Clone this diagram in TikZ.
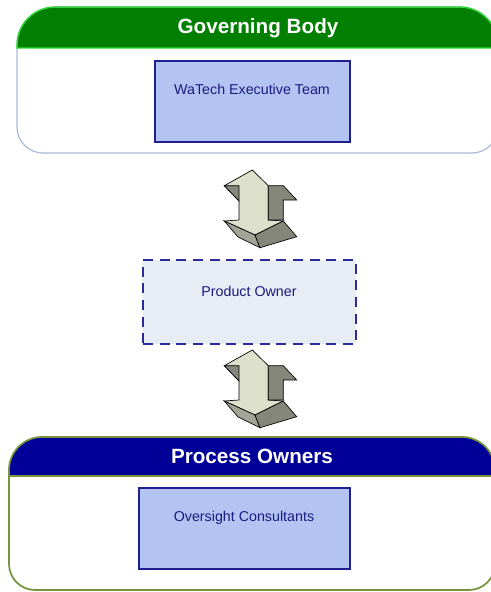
\documentclass[tikz,border=0pt]{standalone}
\usepackage{fontspec}
\setmainfont{Liberation Sans}
\definecolor{gbhead}{HTML}{007F00}
\definecolor{gbgreen}{HTML}{22DD22}
\definecolor{gbline}{HTML}{A9BBD8}
\definecolor{pohead}{HTML}{000099}
\definecolor{poline}{HTML}{77933C}
\definecolor{navytext}{HTML}{1A1A80}
\definecolor{boxfill}{HTML}{B3C4F2}
\definecolor{boxline}{HTML}{1F1F8F}
\definecolor{dashfill}{HTML}{E8ECF5}
\definecolor{dashline}{HTML}{2A2A9A}
\definecolor{arrfront}{HTML}{DDE0CB}
\definecolor{arrdark}{HTML}{85877A}
\definecolor{arrmid}{HTML}{A2A496}
% rounded rectangle: x1,y1,x2,y2,top radius,bottom radius
\newcommand{\rrpath}[6]{(#1,{#2+#5}) .. controls (#1,{#2+0.448*#5}) and ({#1+0.448*#5},#2) .. ({#1+#5},#2) -- ({#3-#5},#2) .. controls ({#3-0.448*#5},#2) and (#3,{#2+0.448*#5}) .. (#3,{#2+#5}) -- (#3,{#4-#6}) .. controls (#3,{#4-0.448*#6}) and ({#3-0.448*#6},#4) .. ({#3-#6},#4) -- ({#1+#6},#4) .. controls ({#1+0.448*#6},#4) and (#1,{#4-0.448*#6}) .. (#1,{#4-#6}) -- cycle}
% header: x1,y1,x2,ybottom,radius
\newcommand{\hdpath}[5]{(#1,#4) -- (#1,{#2+#5}) .. controls (#1,{#2+0.448*#5}) and ({#1+0.448*#5},#2) .. ({#1+#5},#2) -- ({#3-#5},#2) .. controls ({#3-0.448*#5},#2) and (#3,{#2+0.448*#5}) .. (#3,{#2+#5}) -- (#3,#4) -- cycle}
\newcommand{\threedarrow}[2]{%
\begin{scope}[shift={(#1,#2)}, arrowline]
  \filldraw[fill=arrfront] (37.3,5) -- (9.3,20.7) -- (24,36) -- (24,55) -- (9.3,56) -- (40,70) -- (68.3,56) -- (53.3,55) -- (53.3,20.7) -- cycle;
  \filldraw[fill=arrdark] (9.3,20.7) -- (24,20.7) -- (24,36) -- cycle;
  \filldraw[fill=arrdark] (53.3,20.7) -- (68.3,20.7) -- (81.7,35) -- (68.3,35) -- (68.3,55) -- (53.3,55) -- cycle;
  \filldraw[fill=arrmid] (9.3,56) -- (40,70) -- (45,82.7) -- (23,72) -- cycle;
  \filldraw[fill=arrdark] (40,70) -- (68.3,56) -- (81.7,71.7) -- (45,82.7) -- cycle;
\end{scope}}
\begin{document}
\begin{tikzpicture}[x=0.75pt,y=-0.75pt,
  headtext/.style={text=white, font=\fontsize{15.5}{18}\selectfont\bfseries, anchor=base, inner sep=0pt},
  boxtext/.style={text=navytext, font=\fontsize{10.7}{13}\selectfont, anchor=base, inner sep=0pt},
  inbox/.style={draw=boxline, fill=boxfill, line width=0.9pt, inner sep=0pt, minimum height=60.75pt},
  dashbox/.style={draw=dashline, fill=dashfill, line width=1pt, dash pattern=on 7.5pt off 5pt, inner sep=0pt, minimum width=159.75pt, minimum height=63pt},
  arrowline/.style={draw=black, line width=0.5pt, line join=miter}]
\useasboundingbox (0,0) rectangle (491,592);
\fill[white] (0,0) rectangle (491,592);

% Governing Body container
\fill[gbhead] \hdpath{17}{7}{498}{48}{38};
\draw[gbline, line width=0.9pt] \rrpath{17}{7}{498}{153}{38}{26};
\draw[gbgreen, line width=0.9pt] \hdpath{17}{7}{498}{48}{38};
\node[headtext] (gbtitle) at (258,33.3) {Governing Body};
\node[inbox, minimum width=146.25pt] (wet) at (252.5,101.5) {};
\node[boxtext] (wettext) at (252,94) {WaTech Executive Team};

% Product Owner
\node[dashbox] (po) at (249.5,302) {};
\node[boxtext] (potext) at (249,296.7) {Product Owner};

% Process Owners container
\fill[pohead] \hdpath{9}{437}{495}{476}{33};
\draw[poline, line width=1.3pt] \rrpath{9}{437}{495}{590}{33}{26};
\draw[poline, line width=1pt] (9,476) -- (495,476);
\node[headtext] (potitle) at (252,463.3) {Process Owners};
\node[inbox, minimum width=158.25pt] (oc) at (244.5,528.5) {};
\node[boxtext] (octext) at (244,521.7) {Oversight Consultants};

% 3D double arrows
\threedarrow{215}{165}
\threedarrow{215}{345}
\end{tikzpicture}
\end{document}
